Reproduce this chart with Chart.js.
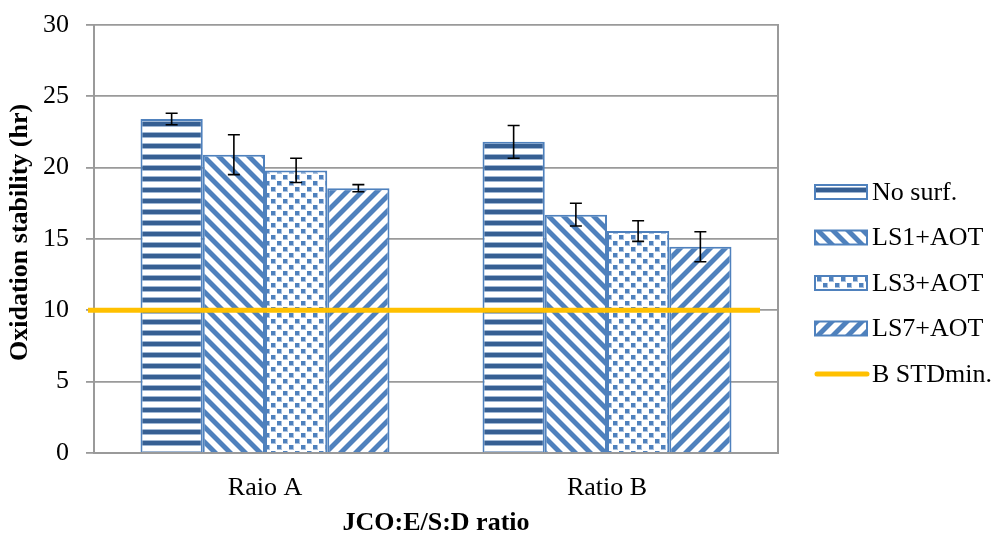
<!DOCTYPE html>
<html lang="en">
<head>
<meta charset="UTF-8">
<title>Oxidation stability</title>
<script src="https://cdn.jsdelivr.net/npm/chart.js"></script>
<style>
  body { margin: 0; background: #fff; }
  .chart-box { position: relative; width: 996px; height: 536px; }
</style>
</head>
<body>
<div class="chart-box"><canvas id="stabilityChart"></canvas></div>
<script>
// data
const categories = ['Raio A', 'Ratio B'];
const seriesNames = ['No surf.', 'LS1+AOT', 'LS3+AOT', 'LS7+AOT'];
const noSurf = [23.4, 21.8];
const ls1Aot = [20.9, 16.7];
const ls3Aot = [19.8, 15.55];
const ls7Aot = [18.55, 14.45];
const noSurfErr = [0.4, 1.15];
const ls1AotErr = [1.4, 0.8];
const ls3AotErr = [0.85, 0.72];
const ls7AotErr = [0.25, 1.05];
const limitName = 'B STDmin.';
const limitValue = 10;
const yTicks = [0, 5, 10, 15, 20, 25, 30];

const serifFont = "'Liberation Serif', 'Times New Roman', serif";
const blue = '#4f81bd';
const gold = '#ffc000';

function makePattern(w, h, paint) {
    const c = document.createElement('canvas');
    c.width = w; c.height = h;
    const g = c.getContext('2d');
    g.fillStyle = '#fff';
    g.fillRect(0, 0, w, h);
    paint(g);
    return g.createPattern(c, 'repeat');
}

// wide horizontal stripes
const hStripes = makePattern(4, 11, g => {
    g.fillStyle = '#9fb6d3'; g.fillRect(0, 0, 4, 1); g.fillRect(0, 5, 4, 1);
    g.fillStyle = '#365f93'; g.fillRect(0, 1, 4, 4);
});

// diagonal stripes, dir = 1 for "\" and -1 for "/"
function diagonal(dir) {
    const p = 15;
    return makePattern(p, p, g => {
        for (let y = 0; y < p; y++) {
            for (let x = 0; x < p; x++) {
                const d = ((dir * x - y) % p + p) % p;
                if (d < 6) { g.fillStyle = blue; g.fillRect(x, y, 1, 1); }
                else if (d === 6 || d === p - 1) { g.fillStyle = '#a9c1df'; g.fillRect(x, y, 1, 1); }
            }
        }
    });
}

const dots = makePattern(12, 12, g => {
    g.fillStyle = '#a9c1df';
    g.fillRect(0, 0, 6, 6);
    g.fillRect(6, 6, 6, 6);
    g.fillStyle = blue;
    g.fillRect(1, 1, 4, 4);
    g.fillRect(7, 7, 4, 4);
    g.fillStyle = '#fff';
    g.fillRect(0, 0, 1, 6); g.fillRect(0, 0, 6, 1);
    g.fillRect(6, 6, 1, 6); g.fillRect(6, 6, 6, 1);
});

// horizontal limit line at limitValue, reaching a bit past the left axis like the original
const limitLine = {
    id: 'limitLine',
    afterDatasetsDraw(chart) {
        const ctx = chart.ctx;
        const area = chart.chartArea;
        const py = chart.scales.y.getPixelForValue(limitValue);
        ctx.save();
        ctx.strokeStyle = gold;
        ctx.lineWidth = 5;
        ctx.beginPath();
        ctx.moveTo(area.left - 6, py);
        ctx.lineTo(area.right - 18, py);
        ctx.stroke();
        ctx.restore();
    }
};

const errorBars = {
    id: 'errorBars',
    afterDatasetsDraw(chart) {
        const ctx = chart.ctx;
        const y = chart.scales.y;
        chart.data.datasets.forEach((ds, i) => {
            if (!ds.errors) return;
            chart.getDatasetMeta(i).data.forEach((bar, j) => {
                const top = y.getPixelForValue(ds.data[j] + ds.errors[j]);
                const bot = y.getPixelForValue(ds.data[j] - ds.errors[j]);
                ctx.save();
                ctx.strokeStyle = '#000';
                ctx.lineWidth = 1.6;
                ctx.beginPath();
                ctx.moveTo(bar.x, top); ctx.lineTo(bar.x, bot);
                ctx.moveTo(bar.x - 6, top); ctx.lineTo(bar.x + 6, top);
                ctx.moveTo(bar.x - 6, bot); ctx.lineTo(bar.x + 6, bot);
                ctx.stroke();
                ctx.restore();
            });
        });
    }
};

// legend drawn by hand so the swatches look like the Excel ones
const swatchLegend = {
    id: 'swatchLegend',
    afterDraw(chart) {
        const ctx = chart.ctx;
        const x0 = 815, y0 = 192, step = 45.5;
        const items = chart.data.datasets.map(ds => ({ label: ds.label, fill: ds.backgroundColor }));
        items.push({ label: limitName, line: gold });
        ctx.save();
        ctx.font = '26px ' + serifFont;
        ctx.textBaseline = 'middle';
        items.forEach((it, i) => {
            const cy = y0 + i * step;
            if (it.line) {
                ctx.strokeStyle = it.line;
                ctx.lineWidth = 5;
                ctx.lineCap = 'round';
                ctx.beginPath();
                ctx.moveTo(x0 + 2, cy); ctx.lineTo(x0 + 52, cy);
                ctx.stroke();
            } else {
                ctx.fillStyle = it.fill;
                ctx.fillRect(x0, cy - 7, 52, 14);
                ctx.strokeStyle = blue;
                ctx.lineWidth = 2;
                ctx.strokeRect(x0, cy - 7, 52, 14);
            }
            ctx.fillStyle = '#000';
            ctx.fillText(it.label, x0 + 57, cy + 1);
        });
        ctx.restore();
    }
};

const barSeries = [noSurf, ls1Aot, ls3Aot, ls7Aot];
const barErrors = [noSurfErr, ls1AotErr, ls3AotErr, ls7AotErr];
const barFills = [hStripes, diagonal(1), dots, diagonal(-1)];

const datasets = seriesNames.map((name, i) => ({
    label: name,
    data: barSeries[i],
    errors: barErrors[i],
    backgroundColor: barFills[i],
    borderColor: blue,
    borderWidth: 2,
    categoryPercentage: 0.728,
    barPercentage: 1
}));

new Chart(document.getElementById('stabilityChart'), {
    type: 'bar',
    data: { labels: categories, datasets: datasets },
    options: {
        responsive: true,
        maintainAspectRatio: false,
        animation: false,
        layout: { padding: { top: 0, right: 218, left: 0, bottom: 0 } },
        plugins: {
            legend: { display: false },
            tooltip: { enabled: false }
        },
        scales: {
            x: {
                grid: { display: false },
                border: { color: '#9a9a9a', width: 2 },
                ticks: { color: '#000', padding: 12, font: { family: serifFont, size: 26 } },
                title: {
                    display: true,
                    text: 'JCO:E/S:D ratio',
                    color: '#000',
                    padding: { top: 0, bottom: -3 },
                    font: { family: serifFont, size: 26, weight: 'bold' }
                },
                afterFit: axis => { axis.height = 83; }
            },
            y: {
                min: yTicks[0],
                max: yTicks[yTicks.length - 1],
                ticks: {
                    stepSize: yTicks[1] - yTicks[0],
                    color: '#000',
                    padding: 17,
                    font: { family: serifFont, size: 26, lineHeight: 0.6 }
                },
                grid: { color: '#9a9a9a', lineWidth: 1.8, tickLength: 8 },
                border: { color: '#9a9a9a', width: 2 },
                title: {
                    display: true,
                    text: '  Oxidation stability (hr)',
                    color: '#000',
                    padding: { top: 5, bottom: 0 },
                    font: { family: serifFont, size: 26, weight: 'bold' }
                },
                afterFit: axis => { axis.width = 94; }
            },
            y2: {
                position: 'right',
                min: yTicks[0],
                max: yTicks[yTicks.length - 1],
                ticks: { display: false },
                grid: { display: false },
                border: { color: '#9a9a9a', width: 2 },
                afterFit: axis => { axis.width = 0; }
            }
        }
    },
    plugins: [limitLine, errorBars, swatchLegend]
});
</script>
</body>
</html>
